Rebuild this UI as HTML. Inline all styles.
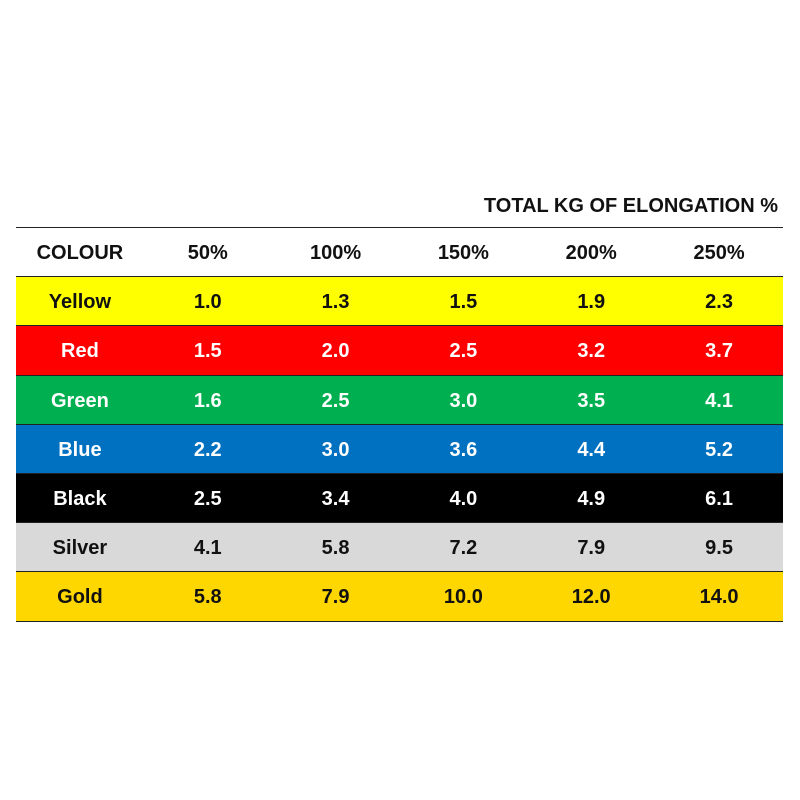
<!DOCTYPE html>
<html><head><meta charset="utf-8"><style>
body{margin:0;width:800px;height:800px;background:#fff;position:relative;font-family:"Liberation Sans",sans-serif;font-weight:bold;overflow:hidden}
#title{position:absolute;right:22px;top:195px;font-size:20px;color:#111}
#tbl{position:absolute;left:16px;top:227px;width:767px;border-top:1.5px solid #222}
.row{display:flex;box-sizing:border-box;padding-top:3px;height:49.2px;border-bottom:1.5px solid #222;align-items:center;font-size:20px}
.row div{width:128px;text-align:center}
</style></head><body>
<div id="title">TOTAL KG OF ELONGATION %</div>
<div id="tbl"></div>
<script>
const headers=["COLOUR","50%","100%","150%","200%","250%"];
const colours=["Yellow","Red","Green","Blue","Black","Silver","Gold"];
const values=[
["1.0","1.3","1.5","1.9","2.3"],
["1.5","2.0","2.5","3.2","3.7"],
["1.6","2.5","3.0","3.5","4.1"],
["2.2","3.0","3.6","4.4","5.2"],
["2.5","3.4","4.0","4.9","6.1"],
["4.1","5.8","7.2","7.9","9.5"],
["5.8","7.9","10.0","12.0","14.0"]];
const bgs=["#ffff00","#ff0000","#00b050","#0070c0","#000000","#d9d9d9","#ffd700"];
const fgs=["#111","#fff","#fff","#fff","#fff","#111","#111"];
const tbl=document.getElementById('tbl');
function mkRow(cells,bg,fg,name){
  const r=document.createElement('div');r.className='row';
  
  
  r.style.background=bg;r.style.color=fg;
  cells.forEach(c=>{const d=document.createElement('div');d.textContent=c;
    
    
    r.appendChild(d);});
  tbl.appendChild(r);
}
mkRow(headers,'#fff','#111','header-row');
colours.forEach((c,i)=>mkRow([c].concat(values[i]),bgs[i],fgs[i],'row-'+c.toLowerCase()));
</script>
</body></html>
